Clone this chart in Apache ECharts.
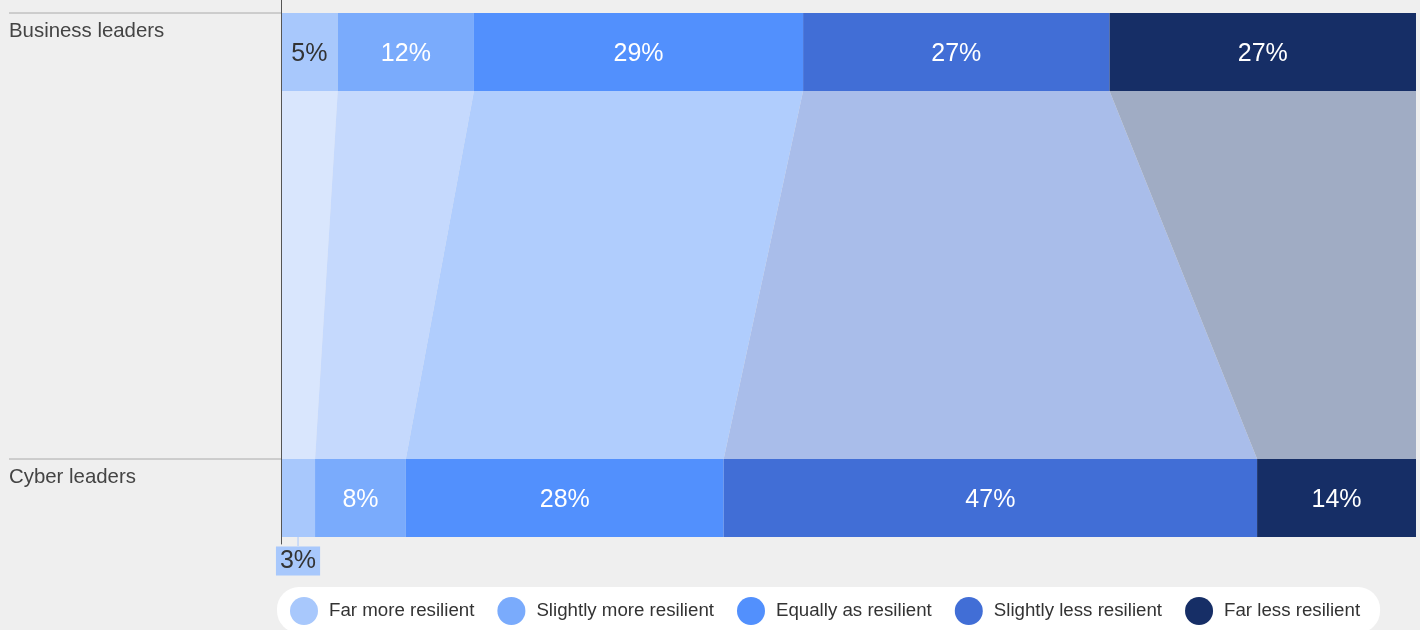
<!DOCTYPE html>
<html><head><meta charset="utf-8">
<script src="https://cdn.jsdelivr.net/npm/echarts@6/dist/echarts.min.js"></script>
<style>html,body{margin:0;padding:0;background:#efefef}#c{width:1420px;height:630px}</style>
</head><body><div id="c"></div>
<script>
// ---- data ----
const categories = ['Business leaders', 'Cyber leaders'];
const segmentNames = ['Far more resilient', 'Slightly more resilient', 'Equally as resilient', 'Slightly less resilient', 'Far less resilient'];
const businessValues = [5, 12, 29, 27, 27];
const cyberValues = [3, 8, 28, 47, 14];

// ---- styles ----
const colors = ['#a8c8fc', '#7aabfc', '#5290fd', '#416ed6', '#162e66'];
const flowColors = ['#d9e6fd', '#c5d9fd', '#b0cdfd', '#a9bdea', '#a0acc4'];
const labelColors = ['#333333', '#ffffff', '#ffffff', '#ffffff', '#ffffff'];
const FONT = '"Liberation Sans", Arial, sans-serif';

// layout in y-axis units (axis spans 0..Y_MAX top to bottom)
const Y_MAX = 544;
const ROW_BANDS = [[13, 91], [459, 537]];
const LABEL_X = 9;

const rows = [businessValues, cyberValues];
function cumulative(arr) { const out = [0]; arr.forEach(v => out.push(out[out.length - 1] + v)); return out; }
const starts = rows.map(cumulative);

const chart = echarts.init(document.getElementById('c'), null, { renderer: 'canvas' });

const segmentSeries = segmentNames.map((name, i) => ({
  type: 'custom',
  name: name,
  coordinateSystem: 'cartesian2d',
  clip: false,
  z: 3,
  itemStyle: { color: colors[i] },
  data: rows.map((r, ri) => [ri, starts[ri][i], starts[ri][i + 1], r[i]]),
  encode: { x: [1, 2], y: 0 },
  renderItem: function (params, api) {
    const ri = api.value(0), s = api.value(1), e = api.value(2), v = api.value(3);
    const band = ROW_BANDS[ri];
    const p0 = api.coord([s, band[0]]);
    const p1 = api.coord([e, band[1]]);
    const children = [{
      type: 'rect',
      shape: { x: p0[0], y: p0[1], width: p1[0] - p0[0], height: p1[1] - p0[1] },
      style: { fill: colors[i] }
    }];
    const cx = (p0[0] + p1[0]) / 2, cy = (p0[1] + p1[1]) / 2;
    if (v >= 4) {
      children.push({
        type: 'text', x: cx, y: cy + 2,
        style: { text: v + '%', fill: labelColors[i], fontSize: 25, fontFamily: FONT, align: 'center', verticalAlign: 'middle' }
      });
    } else {
      children.push({
        type: 'line',
        shape: { x1: cx, y1: p1[1], x2: cx, y2: p1[1] + 9 },
        style: { stroke: colors[i], lineWidth: 1 }
      });
      children.push({
        type: 'text', x: cx, y: p1[1] + 24,
        style: { text: v + '%', fill: '#333333', fontSize: 25, fontFamily: FONT, align: 'center', verticalAlign: 'middle',
                 backgroundColor: colors[i], padding: [2, 4, 2, 4] }
      });
    }
    return { type: 'group', children: children };
  }
}));

const flowSeries = {
  type: 'custom',
  name: 'flows',
  coordinateSystem: 'cartesian2d',
  silent: true,
  clip: false,
  z: 1,
  data: segmentNames.map((_, i) => [i]),
  encode: { x: 0 },
  renderItem: function (params, api) {
    const i = api.value(0);
    const top = ROW_BANDS[0][1], bot = ROW_BANDS[1][0];
    const pts = [
      api.coord([starts[0][i], top]),
      api.coord([starts[0][i + 1], top]),
      api.coord([starts[1][i + 1], bot]),
      api.coord([starts[1][i], bot])
    ];
    return { type: 'polygon', shape: { points: pts }, style: { fill: flowColors[i] } };
  }
};

const rowLabelSeries = {
  type: 'custom',
  name: 'rows',
  coordinateSystem: 'cartesian2d',
  silent: true,
  clip: false,
  z: 2,
  data: categories.map((c, ri) => [0, ri]),
  encode: { x: 0 },
  renderItem: function (params, api) {
    const ri = api.value(1);
    const p = api.coord([0, ROW_BANDS[ri][0]]);
    return {
      type: 'group',
      children: [
        { type: 'line', shape: { x1: LABEL_X, y1: p[1], x2: p[0], y2: p[1] }, style: { stroke: '#aaaaaa', lineWidth: 1 } },
        { type: 'text', x: LABEL_X, y: p[1] + 18,
          style: { text: categories[ri], fill: '#444444', fontSize: 20.4, fontFamily: FONT, align: 'left', verticalAlign: 'middle' } }
      ]
    };
  }
};

chart.setOption({
  backgroundColor: '#efefef',
  animation: false,
  grid: { left: 281, right: 4, top: 0, bottom: 630 - Y_MAX, containLabel: false },
  xAxis: { type: 'value', min: 0, max: 100, show: false },
  yAxis: {
    type: 'value', min: 0, max: Y_MAX, inverse: true, z: 20,
    axisLine: { show: true, lineStyle: { color: '#555555', width: 1 } },
    axisTick: { show: false }, axisLabel: { show: false }, splitLine: { show: false }
  },
  legend: {
    data: segmentNames,
    left: 277, top: 587,
    icon: 'circle',
    itemWidth: 28, itemHeight: 28, itemGap: 23,
    backgroundColor: '#ffffff',
    borderRadius: 22,
    padding: [10, 20, 8, 13],
    textStyle: { fontSize: 18.7, color: '#333333', fontFamily: FONT, padding: [0, 0, 0, 6] },
    selectedMode: false
  },
  series: [flowSeries, rowLabelSeries].concat(segmentSeries)
});
</script>
</body></html>
